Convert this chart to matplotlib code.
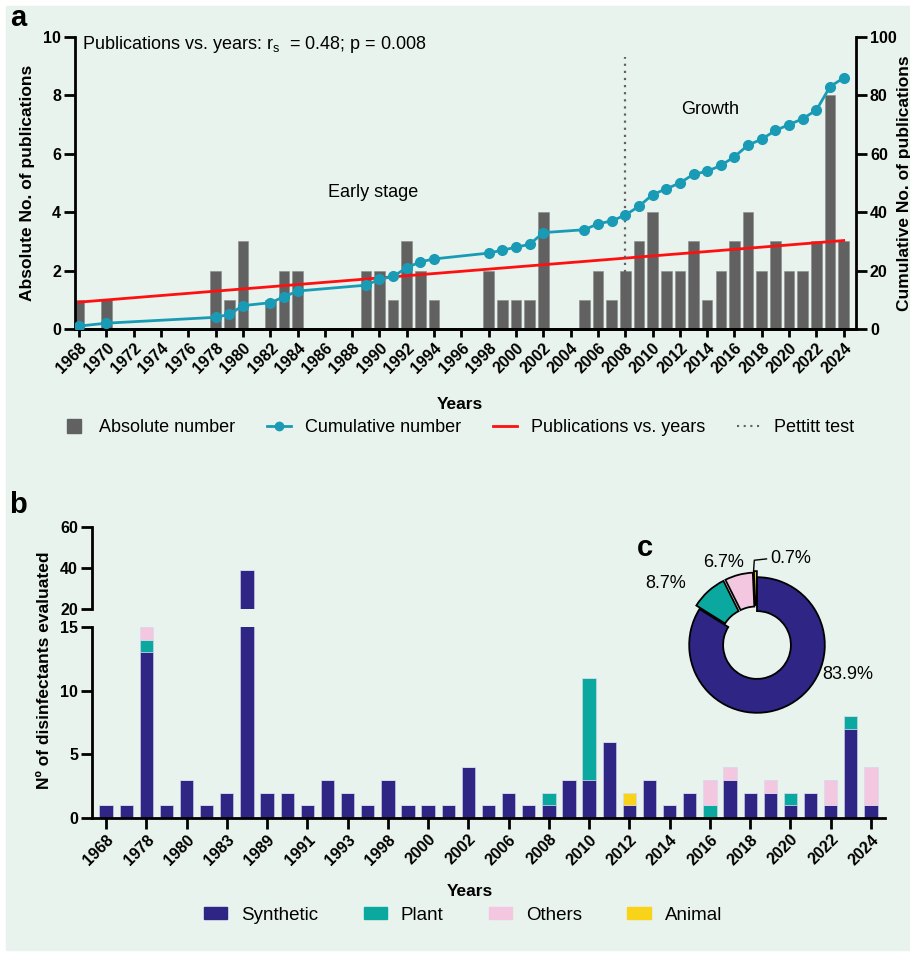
import numpy as np
import matplotlib.pyplot as plt
from matplotlib.lines import Line2D
from matplotlib.patches import Patch, Rectangle

plt.rcParams['font.family'] = ['Liberation Sans', 'DejaVu Sans']
plt.rcParams['mathtext.fontset'] = 'custom'
plt.rcParams['mathtext.rm'] = 'Liberation Sans'

# ---- panel a data
years = list(range(1968, 2025))
absolute = [1, 0, 1, 0, 0, 0, 0, 0, 0, 0,
            2, 1, 3, 0, 1, 2, 2, 0, 0, 0,
            0, 2, 2, 1, 3, 2, 1, 0, 0, 0,
            2, 1, 1, 1, 4, 0, 0, 1, 2, 1,
            2, 3, 4, 2, 2, 3, 1, 2, 3, 4,
            2, 3, 2, 2, 3, 8, 3]
cum_years = [1968, 1970, 1978, 1979, 1980, 1982, 1983, 1984, 1989, 1990, 1991, 1992, 1993,
             1994, 1998, 1999, 2000, 2001, 2002, 2005, 2006, 2007, 2008, 2009, 2010, 2011,
             2012, 2013, 2014, 2015, 2016, 2017, 2018, 2019, 2020, 2021, 2022, 2023, 2024]
cumulative = [1, 2, 4, 5, 8, 9, 11, 13, 15, 17, 18, 21, 23, 24, 26, 27, 28, 29, 33, 34,
              36, 37, 39, 42, 46, 48, 50, 53, 54, 56, 59, 63, 65, 68, 70, 72, 75, 83, 86]
trend_x = [1968, 2024]
trend_y = [0.92, 3.03]
pettitt_year = 2008
pettitt_top = 9.3

# ---- panel b data
b_labels = [str(y) for y in cum_years]
synthetic = [1, 1, 13, 1, 3, 1, 2, 39, 2, 2, 1, 3, 2, 1, 3, 1, 1, 1, 4, 1, 2, 1, 1, 3,
             3, 6, 1, 3, 1, 2, 0, 3, 2, 2, 1, 2, 1, 7, 1]
plant = [0, 0, 1, 0, 0, 0, 0, 0, 0, 0, 0, 0, 0, 0, 0, 0, 0, 0, 0, 0, 0, 0, 1, 0,
         8, 0, 0, 0, 0, 0, 1, 0, 0, 0, 1, 0, 0, 1, 0]
others = [0, 0, 1, 0, 0, 0, 0, 0, 0, 0, 0, 0, 0, 0, 0, 0, 0, 0, 0, 0, 0, 0, 0, 0,
          0, 0, 0, 0, 0, 0, 2, 1, 0, 1, 0, 0, 2, 0, 3]
animal = [0, 0, 0, 0, 0, 0, 0, 0, 0, 0, 0, 0, 0, 0, 0, 0, 0, 0, 0, 0, 0, 0, 0, 0,
          0, 0, 1, 0, 0, 0, 0, 0, 0, 0, 0, 0, 0, 0, 0]

# ---- panel c data
pie_names = ['Synthetic', 'Plant', 'Others', 'Animal']
pie_pct = [83.9, 8.7, 6.7, 0.7]

bg = '#E9F3EE'
gray = '#616161'
teal = '#1A9BB5'
red = '#FF1010'
cols = ['#2E2585', '#0AA89E', '#F3C7DF', '#F8D31A']

W, H = 910, 956
fig = plt.figure(figsize=(W / 100, H / 100), dpi=100, facecolor='white')
fig.patches.append(Rectangle((6 / W, 6 / H), (W - 6) / W, (H - 12) / H,
                             transform=fig.transFigure, color=bg, zorder=-10))


def box(l, t, r, b):
    return [l / W, 1 - b / H, (r - l) / W, (b - t) / H]


def style(ax):
    ax.set_facecolor('none')
    for s in ax.spines.values():
        s.set_linewidth(2)
    ax.tick_params(width=2, length=6, labelsize=11.5, pad=2)
    ax.tick_params(axis='y', length=8)
    for lab in ax.get_xticklabels() + ax.get_yticklabels():
        lab.set_fontweight('bold')


# ================= panel a
ax = fig.add_axes(box(75, 37, 856, 329))
ax.bar(years, absolute, width=0.78, color=gray, edgecolor='#8a8a8a', linewidth=0.4, zorder=2)
ax.plot(trend_x, trend_y, color=red, lw=2, zorder=3)
ax.plot([pettitt_year, pettitt_year], [0, pettitt_top], color=gray, lw=1.6,
        ls=(0, (1, 2.2)), zorder=3)
ax.set_xlim(1967.7, 2024.9)
ax.set_ylim(0, 10)
ax.set_yticks([0, 2, 4, 6, 8, 10])
ax.set_xticks(range(1968, 2025, 2))
ax.set_xticklabels([str(y) for y in range(1968, 2025, 2)], rotation=45,
                   ha='right', rotation_mode='anchor')
ax.spines['top'].set_visible(False)
ax.spines['right'].set_visible(False)
ax.set_ylabel('Absolute No. of publications', fontsize=12.5, fontweight='bold', labelpad=6)
style(ax)

ax2 = ax.twinx()
ax2.plot(cum_years, cumulative, color=teal, lw=2, marker='o', ms=7, zorder=4)
ax2.set_ylim(0, 100)
ax2.set_yticks([0, 20, 40, 60, 80, 100])
ax2.spines['top'].set_visible(False)
ax2.spines['left'].set_visible(False)
ax2.set_ylabel('Cumulative No. of publications', fontsize=12.5, fontweight='bold', labelpad=0)
style(ax2)

ax.text(0.009, 0.973, r'Publications vs. years: r$_\mathrm{s}$  = 0.48; p = 0.008',
        transform=ax.transAxes, fontsize=13, va='center', ha='left')
ax.text(1989.5, 4.66, 'Early stage', fontsize=13, ha='center', va='center')
ax.text(2014.2, 7.5, 'Growth', fontsize=13, ha='center', va='center')

fig.text(460 / W, 1 - 405 / H, 'Years', fontsize=12.5, fontweight='bold', ha='center', va='center')
handles_a = [Line2D([], [], color=gray, marker='s', ls='none', ms=10),
             Line2D([], [], color=teal, lw=2, marker='o', ms=6),
             Line2D([], [], color=red, lw=2),
             Line2D([], [], color=gray, lw=1.5, ls=(0, (1, 2.2)))]
fig.legend(handles_a, ['Absolute number', 'Cumulative number', 'Publications vs. years',
                       'Pettitt test'],
           loc='center', bbox_to_anchor=(458 / W, 1 - 428 / H), ncol=4, frameon=False,
           fontsize=13, handlelength=1.35, columnspacing=1.75, handletextpad=0.75)

# ================= panel b
x = np.arange(len(b_labels))
bl = fig.add_axes(box(92, 627, 885, 818))
bu = fig.add_axes(box(92, 527, 885, 609))
for a in (bl, bu):
    bottom = np.zeros(len(x))
    for vals, c in zip([synthetic, plant, others, animal], cols):
        a.bar(x, vals, bottom=bottom, width=0.66, color=c, edgecolor='#d8d8ee',
              linewidth=0.4, zorder=2)
        bottom = bottom + np.array(vals)
    a.set_xlim(-0.7, len(x) - 1 + 0.7)
    a.spines['top'].set_visible(False)
    a.spines['right'].set_visible(False)

bl.set_ylim(0, 15)
bl.set_yticks([0, 5, 10, 15])
bl.set_xticks(x[::2])
bl.set_xticklabels(b_labels[::2], rotation=45, ha='right', rotation_mode='anchor')
style(bl)
bl.tick_params(axis='x', length=8)

bu.set_ylim(20, 60)
bu.set_yticks([20, 40, 60])
bu.spines['bottom'].set_visible(False)
bu.set_xticks([])
style(bu)

fig.text(45 / W, 1 - 670 / H, 'Nº of disinfectants evaluated', rotation=90, fontsize=12.5,
         fontweight='bold', ha='center', va='center')
fig.text(470 / W, 1 - 892 / H, 'Years', fontsize=12.5, fontweight='bold', ha='center', va='center')
handles_b = [Patch(color=c) for c in cols]
fig.legend(handles_b, pie_names, loc='center', bbox_to_anchor=(463 / W, 1 - 915 / H), ncol=4,
           frameon=False, fontsize=13.5, handlelength=1.25, handleheight=0.65,
           columnspacing=2.4, handletextpad=0.75)

# ================= panel c
pc = fig.add_axes(box(677, 565, 837, 725))
pc.pie(pie_pct, colors=cols, startangle=90, counterclock=False, radius=1,
       explode=[0, 0.07, 0.07, 0.09],
       wedgeprops=dict(width=0.5, edgecolor='black', linewidth=1.3))
pc.set_xlim(-1.18, 1.18)
pc.set_ylim(-1.18, 1.18)
pc.set_aspect('equal')
pc.axis('off')
pc.text(1.34, -0.43, '83.9%', fontsize=13, ha='center', va='center')
pc.text(-1.35, 0.91, '8.7%', fontsize=13, ha='center', va='center')
pc.text(-0.5, 1.22, '6.7%', fontsize=13, ha='center', va='center')
pc.text(0.19, 1.27, '0.7%', fontsize=13, ha='left', va='center')
pc.plot([-0.05, -0.04, 0.14], [1.1, 1.25, 1.27], color='black', lw=1, clip_on=False)

fig.text(18 / W, 1 - 18 / H, 'a', fontsize=21, fontweight='bold', ha='center', va='center')
fig.text(18 / W, 1 - 505 / H, 'b', fontsize=21, fontweight='bold', ha='center', va='center')
fig.text(645 / W, 1 - 548 / H, 'c', fontsize=21, fontweight='bold', ha='center', va='center')

fig.savefig('out.png', dpi=100, facecolor='white')
